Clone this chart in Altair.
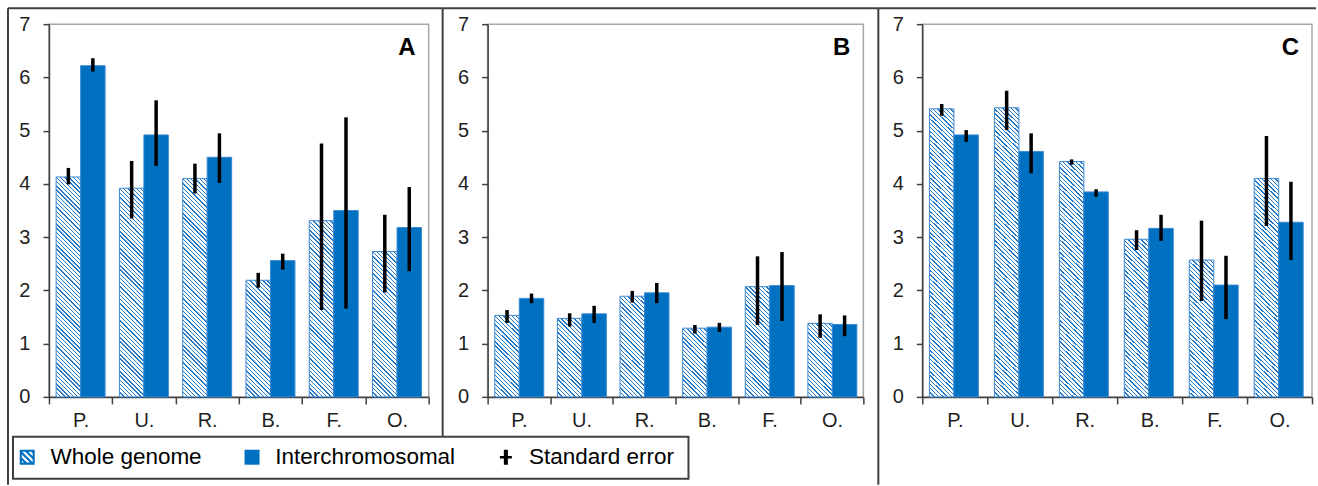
import altair as alt

# ---------------- data ----------------
cats = ["P.", "U.", "R.", "B.", "F.", "O."]
series = ["Whole genome", "Interchromosomal"]
legend_items = ["Whole genome", "Interchromosomal", "Standard error"]

# Panel A
a_whole = [4.13, 3.92, 4.10, 2.19, 3.31, 2.73]
a_whole_lo = [3.99, 3.35, 3.82, 2.05, 1.63, 1.96]
a_whole_hi = [4.30, 4.43, 4.38, 2.33, 4.76, 3.42]
a_inter = [6.22, 4.92, 4.50, 2.56, 3.50, 3.18]
a_inter_lo = [6.11, 4.34, 4.02, 2.39, 1.66, 2.36]
a_inter_hi = [6.36, 5.57, 4.95, 2.69, 5.25, 3.94]

# Panel B
b_whole = [1.53, 1.475, 1.89, 1.29, 2.07, 1.38]
b_whole_lo = [1.39, 1.32, 1.77, 1.19, 1.35, 1.11]
b_whole_hi = [1.63, 1.57, 1.99, 1.35, 2.64, 1.55]
b_inter = [1.85, 1.56, 1.955, 1.31, 2.09, 1.36]
b_inter_lo = [1.76, 1.39, 1.76, 1.22, 1.425, 1.14]
b_inter_hi = [1.94, 1.71, 2.14, 1.39, 2.72, 1.53]

# Panel C
c_whole = [5.41, 5.43, 4.42, 2.96, 2.57, 4.10]
c_whole_lo = [5.28, 5.01, 4.36, 2.76, 1.80, 3.21]
c_whole_hi = [5.50, 5.75, 4.46, 3.13, 3.31, 4.90]
c_inter = [4.92, 4.61, 3.85, 3.165, 2.10, 3.28]
c_inter_lo = [4.79, 4.20, 3.76, 2.93, 1.46, 2.57]
c_inter_hi = [5.01, 4.95, 3.90, 3.42, 2.65, 4.04]

# ---------------- styling ----------------
H = 373
PANEL_W = [380, 376, 390]
BAR_W = [24.5, 24.3, 23.65]
LETTERS = ["A", "B", "C"]
BLUE = "#0070C0"
HATCH = "#2378C8"
FRAME = "#404040"
FONT = "Liberation Sans"
YMAX = 7


def hatch_gradient(w, h, period=3.0, frac=0.32):
    """Diagonal stripes (top-left to bottom-right) as a linear gradient."""
    lam = (w + h) / (w * w + h * h)
    x2 = lam * w
    y2 = 1 - lam * h
    n = max(1, round((w + h) / (2 ** 0.5) / period))
    stops = []
    for k in range(n):
        a = round(k / n, 5)
        b = round((k + frac) / n, 5)
        c = round((k + 1) / n, 5)
        stops += [
            {"offset": a, "color": HATCH},
            {"offset": b, "color": HATCH},
            {"offset": b, "color": "#ffffff"},
            {"offset": c, "color": "#ffffff"},
        ]
    return {"gradient": "linear", "x1": 0, "y1": 1,
            "x2": round(x2, 6), "y2": round(y2, 6), "stops": stops}


def make_rows(whole, wlo, whi, inter, ilo, ihi, bw):
    rows = []
    for i, c in enumerate(cats):
        hpx = whole[i] / YMAX * H
        rows.append({"cat": c, "series": series[0], "val": whole[i],
                     "lo": wlo[i], "hi": whi[i], "pat": hatch_gradient(bw, hpx)})
        rows.append({"cat": c, "series": series[1], "val": inter[i],
                     "lo": ilo[i], "hi": ihi[i], "pat": BLUE})
    return rows


# ---------- legend symbols (paths in the -1..1 box) ----------
def clip(poly, f):
    out = []
    n = len(poly)
    for i in range(n):
        p, q = poly[i], poly[(i + 1) % n]
        fp, fq = f(p), f(q)
        if fp >= 0:
            out.append(p)
        if (fp >= 0) != (fq >= 0):
            t = fp / (fp - fq)
            out.append((p[0] + t * (q[0] - p[0]), p[1] + t * (q[1] - p[1])))
    return out


def poly_path(pts, clockwise):
    area = sum(pts[i][0] * pts[(i + 1) % len(pts)][1] - pts[(i + 1) % len(pts)][0] * pts[i][1]
               for i in range(len(pts)))
    if (area > 0) != clockwise:
        pts = pts[::-1]
    s = "M" + " L".join(f"{x:.3f},{y:.3f}" for x, y in pts) + " Z"
    return s


inner = 0.72
hatch_path = poly_path([(-1, -1), (1, -1), (1, 1), (-1, 1)], True)
for c1, c2 in [(-1.25, -0.85), (-0.45, -0.05), (0.35, 0.75), (1.15, 1.5)]:
    sq = [(-inner, -inner), (inner, -inner), (inner, inner), (-inner, inner)]
    band = clip(sq, lambda p, c1=c1: (p[1] - p[0]) - c1)
    band = clip(band, lambda p, c2=c2: c2 - (p[1] - p[0]))
    if len(band) >= 3:
        hatch_path += " " + poly_path(band, False)
square_path = "M-1,-1 L1,-1 L1,1 L-1,1 Z"
plus_path = ("M-0.27,-1 L0.27,-1 L0.27,1 L-0.27,1 Z "
             "M-0.8,-0.17 L0.8,-0.17 L0.8,0.17 L-0.8,0.17 Z")


def rule(x1, y1, x2, y2, sw=2):
    return alt.Chart(alt.Data(values=[{"k": 0}])).mark_rule(
        color=FRAME, strokeWidth=sw).encode(
        x=alt.value(x1), y=alt.value(y1), x2=alt.value(x2), y2=alt.value(y2))


def panel(i, rows, extra):
    w = PANEL_W[i]
    step = w / len(cats)
    po = step / (2 * BAR_W[i]) - 1
    base = alt.Chart(alt.Data(values=rows))
    x = alt.X("cat:N", sort=cats,
              scale=alt.Scale(domain=cats, paddingInner=0, paddingOuter=0),
              axis=alt.Axis(title=None, labelAngle=0, tickBand="extent"))
    xo = alt.XOffset("series:N", sort=series,
                     scale=alt.Scale(domain=series, paddingInner=0, paddingOuter=po))
    y = alt.Y("val:Q", stack=None,
              scale=alt.Scale(domain=[0, YMAX], nice=False),
              axis=alt.Axis(title=None, values=list(range(YMAX + 1)), grid=False,
                            format="d"))
    bars = base.mark_bar(stroke="#3A8AD6", strokeWidth=1).encode(
        x=x, xOffset=xo, y=y,
        fill=alt.Fill("pat:N", scale=None, legend=None))
    err = base.mark_rule(color="black", strokeWidth=3.5).encode(
        x=x, xOffset=xo, y=alt.Y("lo:Q", title=None), y2="hi:Q")
    letter = alt.Chart(alt.Data(values=[{"t": LETTERS[i]}])).mark_text(
        font=FONT, fontSize=24, fontWeight="bold", align="right",
        baseline="alphabetic", color="black").encode(
        text="t:N", x=alt.value(w - 13), y=alt.value(30.5))
    return alt.layer(bars, err, letter, *extra).properties(width=w, height=H)


leg = alt.Legend(
    title=None, orient="none", legendX=-42, legendY=413, direction="horizontal",
    symbolSize=225, symbolStrokeWidth=0, symbolOpacity=1,
    labelFont=FONT, labelFontSize=22.5, labelColor="#000000", labelLimit=400,
    labelOffset=12, columnPadding=39, padding=9)

legend_layer = alt.Chart(alt.Data(values=[{"item": s} for s in legend_items])).mark_point(
    filled=True, opacity=0).encode(
    color=alt.Color("item:N", scale=alt.Scale(domain=legend_items,
                                              range=[BLUE, BLUE, "#000000"]), legend=leg),
    shape=alt.Shape("item:N", scale=alt.Scale(domain=legend_items,
                                              range=[hatch_path, square_path, plus_path]),
                    legend=leg))

legend_box = alt.Chart(alt.Data(values=[{"k": 0}])).mark_rect(
    fill="transparent", stroke=FRAME, strokeWidth=2).encode(
    x=alt.value(-36), x2=alt.value(640), y=alt.value(413), y2=alt.value(455))

rowsA = make_rows(a_whole, a_whole_lo, a_whole_hi, a_inter, a_inter_lo, a_inter_hi, BAR_W[0])
rowsB = make_rows(b_whole, b_whole_lo, b_whole_hi, b_inter, b_inter_lo, b_inter_hi, BAR_W[1])
rowsC = make_rows(c_whole, c_whole_lo, c_whole_hi, c_inter, c_inter_lo, c_inter_hi, BAR_W[2])

pA = panel(0, rowsA, [
    rule(-41, -16, -41, 461),
    rule(-41, -16, 394, -16),
    rule(394, -16, 394, 413),
    legend_box,
    legend_layer,
])
pB = panel(1, rowsB, [
    rule(-45, -16, 391, -16),
    rule(391, -16, 391, 461),
])
pC = panel(2, rowsC, [
    rule(-44, -16, 394, -16),
])

chart = alt.hconcat(pA, pB, pC, spacing=59, bounds="flush").properties(
    padding={"left": 6, "top": 6, "right": 0, "bottom": 0}
).configure(font=FONT).configure_mark(aria=False).configure_view(
    stroke="#A6A6A6", strokeWidth=1.5
).configure_axis(
    labelFont=FONT, labelFontSize=20, labelColor="#1F1F1F",
    domainColor=FRAME, domainWidth=1.5, tickColor=FRAME, tickWidth=1.5,
    labelOverlap=False
).configure_axisX(
    tickSize=7, labelPadding=7
).configure_axisY(
    tickSize=6, labelPadding=13
)

chart.save("out.html", embed_options={"renderer": "svg", "actions": False})
